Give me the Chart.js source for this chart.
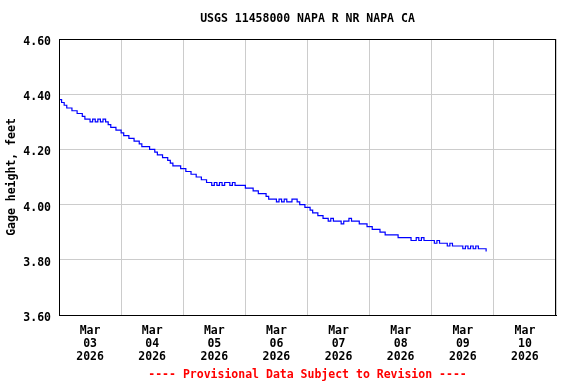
<!DOCTYPE html>
<html>
<head>
<meta charset="utf-8">
<script src="https://cdn.jsdelivr.net/npm/chart.js@4"></script>
<style>
  html, body { margin: 0; padding: 0; background: #fff; }
  #wrap { width: 576px; height: 384px; }
</style>
</head>
<body>
<div id="wrap"><canvas id="myChart" width="576" height="384"></canvas></div>
<script>
// hourly gage height readings (feet), starting Mar 03 2026 00:00
var day03 = [4.38, 4.37, 4.36, 4.35, 4.35, 4.34, 4.34, 4.33, 4.33, 4.32, 4.31, 4.31,
             4.30, 4.31, 4.30, 4.31, 4.30, 4.31, 4.30, 4.29, 4.28, 4.28, 4.27, 4.27];
var day04 = [4.26, 4.25, 4.25, 4.24, 4.24, 4.23, 4.23, 4.22, 4.21, 4.21, 4.21, 4.20,
             4.20, 4.19, 4.18, 4.18, 4.17, 4.17, 4.16, 4.15, 4.14, 4.14, 4.14, 4.13];
var day05 = [4.13, 4.12, 4.12, 4.11, 4.11, 4.10, 4.10, 4.09, 4.09, 4.08, 4.08, 4.07,
             4.08, 4.07, 4.08, 4.07, 4.08, 4.08, 4.07, 4.08, 4.07, 4.07, 4.07, 4.07];
var day06 = [4.06, 4.06, 4.06, 4.05, 4.05, 4.04, 4.04, 4.04, 4.03, 4.02, 4.02, 4.02,
             4.01, 4.02, 4.01, 4.02, 4.01, 4.01, 4.02, 4.02, 4.01, 4.00, 4.00, 3.99];
var day07 = [3.99, 3.98, 3.97, 3.97, 3.96, 3.96, 3.95, 3.95, 3.94, 3.95, 3.94, 3.94,
             3.94, 3.93, 3.94, 3.94, 3.95, 3.94, 3.94, 3.94, 3.93, 3.93, 3.93, 3.92];
var day08 = [3.92, 3.91, 3.91, 3.91, 3.90, 3.90, 3.89, 3.89, 3.89, 3.89, 3.89, 3.88,
             3.88, 3.88, 3.88, 3.88, 3.87, 3.87, 3.88, 3.87, 3.88, 3.87, 3.87, 3.87];
var day09 = [3.87, 3.86, 3.87, 3.86, 3.86, 3.86, 3.85, 3.86, 3.85, 3.85, 3.85, 3.85,
             3.84, 3.85, 3.84, 3.85, 3.84, 3.85, 3.84, 3.84, 3.84, 3.83];

var dayLabels = ['03', '04', '05', '06', '07', '08', '09', '10'];
var monthLabel = 'Mar';
var yearLabel = '2026';
var yTicks = [3.60, 3.80, 4.00, 4.20, 4.40, 4.60];

var titleText = 'USGS 11458000 NAPA R NR NAPA CA';
var footerText = '---- Provisional Data Subject to Revision ----';
var yTitle = 'Gage height, feet';

var gage = [].concat(day03, day04, day05, day06, day07, day08, day09);
var points = gage.map(function (v, i) { return { x: i, y: v }; });

var fontFam = '"DejaVu Sans Mono", "Liberation Mono", monospace';

// title, footer and the top/right frame
var framePlugin = {
    id: 'frame',
    afterDraw: function (chart) {
        var ctx = chart.ctx;
        var a = chart.chartArea;
        ctx.save();
        ctx.strokeStyle = '#000';
        ctx.lineWidth = 1;
        ctx.strokeRect(Math.round(a.left) + 0.5, Math.round(a.top) + 0.5,
                       Math.round(a.right - a.left) - 1, Math.round(a.bottom - a.top));
        var cx = (a.left + a.right) / 2;
        ctx.textAlign = 'center';
        ctx.textBaseline = 'middle';
        ctx.font = 'bold 11.5px ' + fontFam;
        ctx.fillStyle = '#000';
        ctx.fillText(titleText, cx, 19);
        ctx.fillStyle = '#ff0000';
        ctx.fillText(footerText, cx, 375);
        ctx.restore();
    }
};

var context = document.getElementById('myChart').getContext('2d');

var myChart = new Chart(context, {
    type: 'line',
    data: {
        datasets: [{
            data: points,
            borderColor: '#0000ff',
            borderWidth: 1.2,
            pointRadius: 0,
            stepped: true,
            fill: false
        }]
    },
    options: {
        responsive: false,
        animation: false,
        layout: { padding: { top: 39, right: 20, bottom: 0, left: 0 } },
        plugins: {
            legend: { display: false },
            tooltip: { enabled: false }
        },
        scales: {
            x: {
                type: 'linear',
                min: 0,
                max: 192,
                afterFit: function (scale) { scale.height = 69; },
                border: { display: true, color: '#000', width: 1 },
                grid: {
                    drawTicks: false,
                    color: function (c) {
                        return (c.tick && c.tick.value % 24 === 0) ? '#cccccc' : 'rgba(0,0,0,0)';
                    }
                },
                afterBuildTicks: function (scale) {
                    var t = [];
                    for (var i = 0; i <= dayLabels.length * 2; i++) t.push({ value: i * 12 });
                    scale.ticks = t;
                },
                ticks: {
                    autoSkip: false,
                    maxRotation: 0,
                    padding: 9,
                    color: '#000',
                    font: { family: fontFam, size: 11.5, weight: 'bold', lineHeight: 1.15 },
                    callback: function (value) {
                        if (value % 24 !== 12) return '';
                        var d = dayLabels[(value - 12) / 24];
                        return [monthLabel, d, yearLabel];
                    }
                }
            },
            y: {
                min: 3.6,
                max: 4.6,
                afterFit: function (scale) { scale.width = 59; },
                border: { display: true, color: '#000', width: 1 },
                grid: { drawTicks: false, color: '#cccccc' },
                afterBuildTicks: function (scale) {
                    scale.ticks = yTicks.map(function (v) { return { value: v }; });
                },
                ticks: {
                    padding: 8,
                    color: '#000',
                    // blank first line nudges the label a few px below its gridline
                    font: { family: fontFam, size: 11.5, weight: 'bold', lineHeight: '6px' },
                    callback: function (value) { return ['', Number(value).toFixed(2)]; }
                },
                title: {
                    display: true,
                    text: yTitle,
                    color: '#000',
                    padding: { top: 5, bottom: 0 },
                    font: { family: fontFam, size: 11.5, weight: 'bold' }
                }
            }
        }
    },
    plugins: [framePlugin]
});
</script>
</body>
</html>
